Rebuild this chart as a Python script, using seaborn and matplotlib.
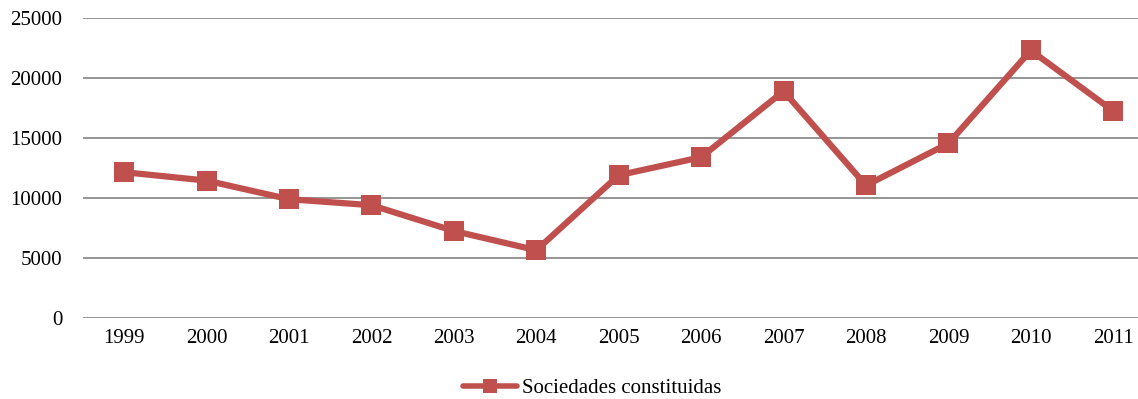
import matplotlib
matplotlib.use("Agg")
import matplotlib.pyplot as plt
import seaborn as sns
import pandas as pd

years = ["1999", "2000", "2001", "2002", "2003", "2004", "2005",
         "2006", "2007", "2008", "2009", "2010", "2011"]
sociedades = [12150, 11450, 9900, 9400, 7250, 5650, 11900,
              13400, 18900, 11050, 14550, 22300, 17250]
series_name = "Sociedades constituidas"

sns.set_theme(style="white")
plt.rcParams["font.family"] = ["Liberation Serif", "DejaVu Serif"]
plt.rcParams["text.color"] = "black"

df = pd.DataFrame({"year": years, "value": sociedades, "serie": series_name})
df["pos"] = range(len(years))

fig = plt.figure(figsize=(11.38, 3.99), dpi=100)
ax = fig.add_axes([83 / 1138, (399 - 318) / 399, (1138 - 83) / 1138, (318 - 18) / 399])

color = "#C0504D"
sns.lineplot(data=df, x="pos", y="value", hue="serie", palette=[color],
             marker="s", markersize=14, markeredgewidth=0, linewidth=4.5,
             ax=ax, legend=True)

ax.set_ylim(0, 25000)
ax.set_xlim(-0.5, 12.3)
ax.set_yticks(range(0, 25001, 5000))
ax.set_xticks(df["pos"])
ax.set_xticklabels(years)
ax.set_xlabel("")
ax.set_ylabel("")
ax.yaxis.grid(True, color="#8c8c8c", linewidth=1.3)
ax.set_axisbelow(True)
for s in ax.spines.values():
    s.set_visible(False)
ax.tick_params(axis="both", length=0, labelsize=15, colors="black", pad=8)
ax.tick_params(axis="y", pad=15)

leg = ax.legend(loc="center", bbox_to_anchor=(592 / 1138, 11 / 399),
                bbox_transform=fig.transFigure, frameon=False, fontsize=15,
                handlelength=2.6, handletextpad=0.25)
for t in leg.get_texts():
    t.set_color("black")
for h in leg.legend_handles:
    h.set_markersize(10)
    h.set_linewidth(4)

fig.savefig("out.png", dpi=100, facecolor="white")
